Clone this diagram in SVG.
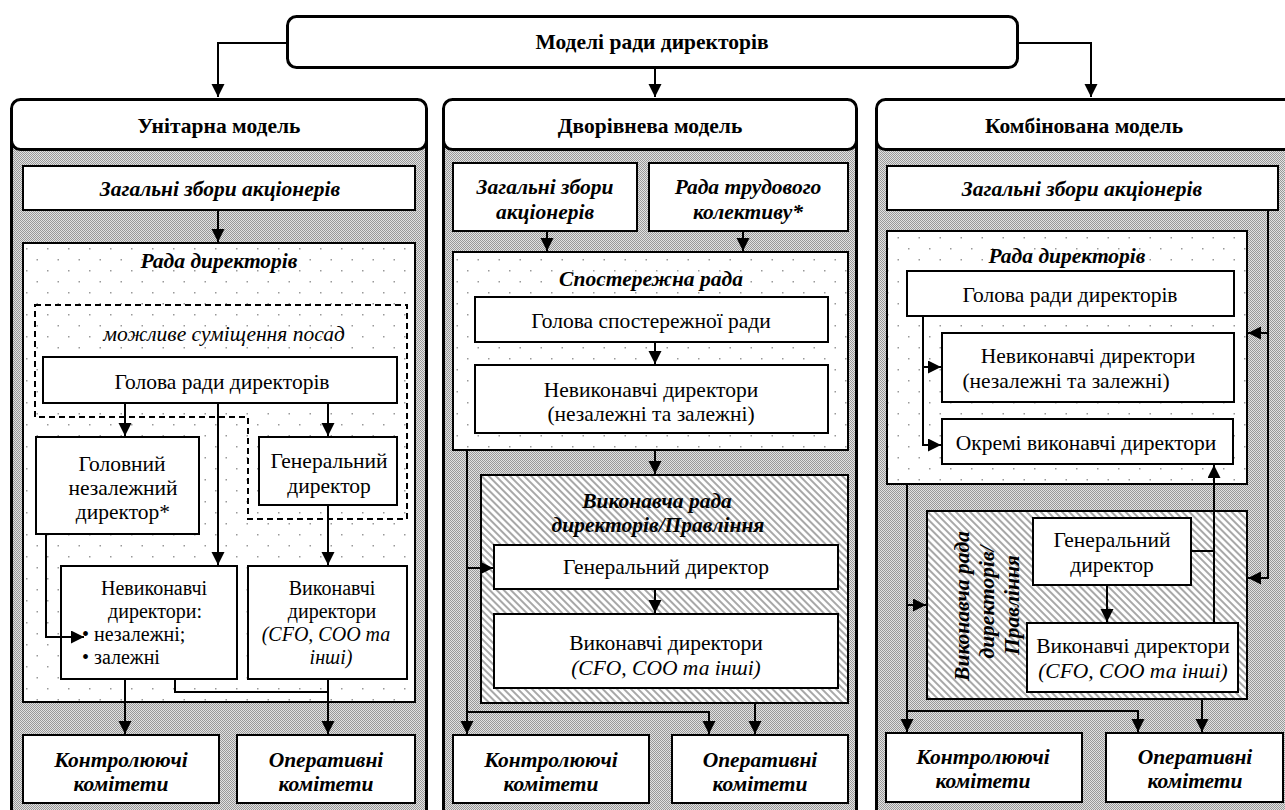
<svg xmlns="http://www.w3.org/2000/svg" width="1285" height="810" viewBox="0 0 1285 810" font-family="Liberation Serif, serif">
<defs>
<style>
text{font-family:'Liberation Serif',serif;fill:#000;text-anchor:middle}
.h{font-size:21.5px;font-weight:bold}
.bi{font-size:21.5px;font-weight:bold;font-style:italic}
.r{font-size:21.5px}
.i{font-size:21.5px;font-style:italic}
.s{font-size:20px}
.box{fill:#fff;stroke:#000;stroke-width:2}
.col{fill:url(#grey);stroke:#000;stroke-width:3}
.hdr{fill:#fff;stroke:#000;stroke-width:3}
.dots{fill:url(#dots);stroke:#000;stroke-width:2}
.hatch{fill:url(#hatch);stroke:#000;stroke-width:2}
.ln{fill:none;stroke:#000;stroke-width:2}
.arr{fill:none;stroke:#000;stroke-width:2;marker-end:url(#ah)}
</style>
<pattern id="grey" width="2" height="2" patternUnits="userSpaceOnUse">
<rect width="2" height="2" fill="#e2e2e2"/>
<rect width="1" height="1" fill="#999"/>
<rect x="1" y="1" width="1" height="1" fill="#999"/>
</pattern>
<pattern id="dots" width="21" height="22" patternUnits="userSpaceOnUse">
<rect width="21" height="22" fill="#fff"/>
<rect x="5" y="6" width="1.5" height="1.5" fill="#999"/>
<rect x="15.5" y="17" width="1.5" height="1.5" fill="#999"/>
</pattern>
<pattern id="hatch" width="5" height="5" patternUnits="userSpaceOnUse" patternTransform="rotate(45)">
<rect width="5" height="5" fill="#fff"/>
<rect width="5" height="2" fill="#a8a8a8"/>
</pattern>
<marker id="ah" markerUnits="userSpaceOnUse" markerWidth="14" markerHeight="14" refX="13" refY="6.5" orient="auto">
<path d="M0,0 L13,6.5 L0,13 z" fill="#000"/>
</marker>
</defs>

<g id="top">
<rect x="287.5" y="16.5" width="730" height="51" rx="9" class="hdr"/>
<text x="652" y="49" class="h">Моделі ради директорів</text>
</g>

<g id="col-unitary">
<rect x="11.5" y="120" width="415" height="700" class="col"/>
<rect x="11.5" y="99.5" width="415" height="50" rx="9" class="hdr"/>
<text x="219" y="133" class="h">Унітарна модель</text>
</g>
<g id="col-twotier">
<rect x="443.5" y="120" width="413" height="700" class="col"/>
<rect x="443.5" y="99.5" width="413" height="50" rx="9" class="hdr"/>
<text x="650" y="133" class="h">Дворівнева модель</text>
</g>
<g id="col-combined">
<rect x="876.5" y="120" width="420" height="700" class="col"/>
<rect x="876.5" y="99.5" width="420" height="50" rx="9" class="hdr"/>
<text x="1084" y="133" class="h">Комбінована модель</text>
</g>

<g id="u-meeting">
<rect x="23" y="166" width="392" height="44" class="box"/>
<text x="220" y="196" class="bi">Загальні збори акціонерів</text>
</g>
<g id="u-board">
<rect x="23" y="243" width="392" height="459" class="dots"/>
<text x="219" y="268" class="bi">Рада директорів</text>
</g>
<g id="u-combine">
<path d="M35,305 H407 V519 H248 V417 H35 Z" fill="none" stroke="#000" stroke-width="2" stroke-dasharray="6,4"/>
<text x="224" y="341" class="i">можливе суміщення посад</text>
</g>
<g id="u-chair">
<rect x="43" y="357" width="354" height="46" class="box"/>
<text x="222" y="389" class="r">Голова ради директорів</text>
</g>
<g id="u-lead">
<rect x="36" y="437" width="163" height="97" class="box"/>
<text x="122" y="471" class="r">Головний</text>
<text x="123" y="495" class="r">незалежний</text>
<text x="123" y="519" class="r">директор*</text>
</g>
<g id="u-ceo">
<rect x="259" y="437" width="138" height="68" class="box"/>
<text x="329" y="468" class="r">Генеральний</text>
<text x="329" y="493" class="r">директор</text>
</g>
<g id="u-nonexec">
<rect x="61" y="566" width="176" height="113" class="box"/>
<text x="154" y="595" class="r s">Невиконавчі</text>
<text x="155" y="618" class="r s">директори:</text>
<text x="82" y="641" class="r s" style="text-anchor:start">• незалежні;</text>
<text x="82" y="664" class="r s" style="text-anchor:start">• залежні</text>
</g>
<g id="u-exec">
<rect x="248" y="566" width="159" height="113" class="box"/>
<text x="332" y="595" class="r s">Виконавчі</text>
<text x="332" y="618" class="r s">директори</text>
<text x="326" y="641" class="i s">(CFO, COO та</text>
<text x="331" y="664" class="i s">інші)</text>
</g>
<g id="u-control">
<rect x="23" y="735" width="196" height="68" class="box"/>
<text x="121" y="767" class="bi">Контролюючі</text>
<text x="121" y="791" class="bi">комітети</text>
</g>
<g id="u-oper">
<rect x="237" y="735" width="178" height="68" class="box"/>
<text x="326" y="767" class="bi">Оперативні</text>
<text x="326" y="791" class="bi">комітети</text>
</g>

<g id="t-meeting">
<rect x="453" y="163" width="184" height="68" class="box"/>
<text x="545" y="194" class="bi">Загальні збори</text>
<text x="545" y="219" class="bi">акціонерів</text>
</g>
<g id="t-works">
<rect x="649" y="163" width="199" height="68" class="box"/>
<text x="748" y="194" class="bi">Рада трудового</text>
<text x="748" y="219" class="bi">колективу*</text>
</g>
<g id="t-super">
<rect x="453" y="252" width="395" height="198" class="dots"/>
<text x="651" y="286" class="bi">Спостережна рада</text>
</g>
<g id="t-chair">
<rect x="475" y="297" width="353" height="45" class="box"/>
<text x="651" y="328" class="r">Голова спостережної ради</text>
</g>
<g id="t-nonexec">
<rect x="475" y="365" width="353" height="68" class="box"/>
<text x="651" y="397" class="r">Невиконавчі директори</text>
<text x="651" y="421" class="r">(незалежні та залежні)</text>
</g>
<g id="t-execboard">
<rect x="481" y="475" width="367" height="228" class="hatch"/>
<text x="657" y="508" class="bi">Виконавча рада</text>
<text x="658" y="532" class="bi">директорів/Правління</text>
</g>
<g id="t-ceo">
<rect x="494" y="545" width="344" height="44" class="box"/>
<text x="666" y="574" class="r">Генеральний директор</text>
</g>
<g id="t-exec">
<rect x="494" y="614" width="344" height="74" class="box"/>
<text x="666" y="650" class="r">Виконавчі директори</text>
<text x="666" y="675" class="i">(CFO, COO та інші)</text>
</g>
<g id="t-control">
<rect x="453" y="735" width="196" height="68" class="box"/>
<text x="551" y="767" class="bi">Контролюючі</text>
<text x="551" y="791" class="bi">комітети</text>
</g>
<g id="t-oper">
<rect x="672" y="735" width="176" height="68" class="box"/>
<text x="760" y="767" class="bi">Оперативні</text>
<text x="760" y="791" class="bi">комітети</text>
</g>

<g id="c-meeting">
<rect x="887" y="166" width="391" height="44" class="box"/>
<text x="1082" y="196" class="bi">Загальні збори акціонерів</text>
</g>
<g id="c-board">
<rect x="887" y="231" width="360" height="253" class="dots"/>
<text x="1067" y="263" class="bi">Рада директорів</text>
</g>
<g id="c-chair">
<rect x="907" y="271" width="327" height="45" class="box"/>
<text x="1070" y="302" class="r">Голова ради директорів</text>
</g>
<g id="c-nonexec">
<rect x="942" y="333" width="292" height="69" class="box"/>
<text x="1088" y="363" class="r">Невиконавчі директори</text>
<text x="1066" y="388" class="r">(незалежні та залежні)</text>
</g>
<g id="c-someexec">
<rect x="942" y="419" width="291" height="45" class="box"/>
<text x="1086" y="450" class="r">Окремі виконавчі директори</text>
</g>
<g id="c-execboard">
<rect x="927" y="511" width="320" height="188" class="hatch"/>
<text transform="translate(969,606) rotate(-90)" class="bi">Виконавча рада</text>
<text transform="translate(994,602) rotate(-90)" class="bi">директорів/</text>
<text transform="translate(1019,605) rotate(-90)" class="bi">Правління</text>
</g>
<g id="c-ceo">
<rect x="1033" y="518" width="158" height="67" class="box"/>
<text x="1112" y="547" class="r">Генеральний</text>
<text x="1112" y="572" class="r">директор</text>
</g>
<g id="c-exec">
<rect x="1027" y="623" width="211" height="69" class="box"/>
<text x="1133" y="653" class="r">Виконавчі директори</text>
<text x="1133" y="678" class="i">(CFO, COO та інші)</text>
</g>
<g id="c-control">
<rect x="886" y="733" width="196" height="69" class="box"/>
<text x="983" y="764" class="bi">Контролюючі</text>
<text x="983" y="788" class="bi">комітети</text>
</g>
<g id="c-oper">
<rect x="1106" y="733" width="177" height="69" class="box"/>
<text x="1195" y="764" class="bi">Оперативні</text>
<text x="1195" y="788" class="bi">комітети</text>
</g>

<g id="connectors">
<path class="arr" d="M287,43 H218 V97"/>
<path class="arr" d="M655,68 V97"/>
<path class="arr" d="M1018,43 H1091 V97"/>

<path class="arr" d="M218,210 V242"/>
<path class="arr" d="M125,403 V436"/>
<path class="arr" d="M328,403 V436"/>
<path class="arr" d="M218,403 V565"/>
<path class="arr" d="M328,505 V565"/>
<path class="arr" d="M46,534 V637 H84"/>
<path class="arr" d="M125,679 V734"/>
<path class="ln" d="M175,679 V692 H328"/>
<path class="arr" d="M328,679 V734"/>

<path class="arr" d="M547,231 V251"/>
<path class="arr" d="M743,231 V251"/>
<path class="arr" d="M655,342 V364"/>
<path class="arr" d="M655,450 V474"/>
<path class="arr" d="M467,450 V734"/>
<path class="arr" d="M467,568 H493"/>
<path class="arr" d="M467,712 H709 V734"/>
<path class="arr" d="M655,589 V613"/>
<path class="arr" d="M755,703 V734"/>

<path class="arr" d="M1268,210 V578 H1248"/>
<path class="arr" d="M1268,333 H1248"/>
<path class="arr" d="M923,316 V445 H941"/>
<path class="arr" d="M923,367 H941"/>
<path class="arr" d="M907,484 V732"/>
<path class="arr" d="M907,605 H926"/>
<path class="arr" d="M907,711 H1138 V732"/>
<path class="ln" d="M1191,551 H1214"/>
<path class="arr" d="M1214,623 V465"/>
<path class="arr" d="M1107,585 V622"/>
<path class="arr" d="M1202,699 V732"/>
</g>
</svg>
